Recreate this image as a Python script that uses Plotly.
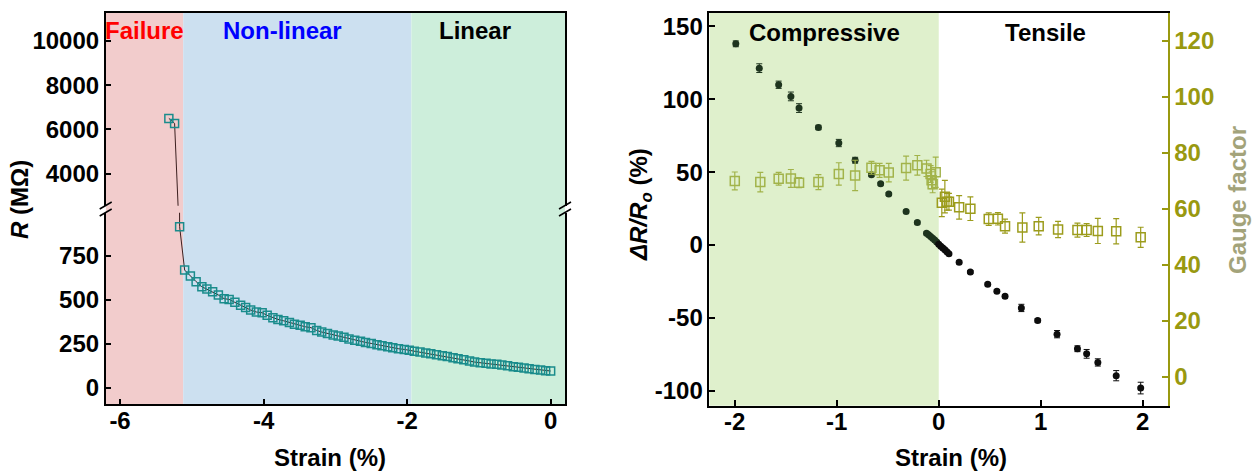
import plotly.graph_objects as go

# ---------------- data: left panel (R vs strain) ----------------
strain_R = [-5.32, -5.24, -5.17, -5.10, -5.02, -4.94, -4.86, -4.79, -4.71, -4.63,
            -4.55, -4.48, -4.40, -4.32, -4.25, -4.18, -4.10, -4.02, -3.95, -3.87,
            -3.80, -3.72, -3.64, -3.57, -3.49, -3.42, -3.34, -3.26, -3.19, -3.11,
            -3.03, -2.96, -2.88, -2.81, -2.73, -2.65, -2.58, -2.50, -2.42, -2.35,
            -2.27, -2.20, -2.12, -2.04, -1.97, -1.90, -1.82, -1.74, -1.67, -1.59,
            -1.51, -1.44, -1.36, -1.29, -1.21, -1.13, -1.06, -0.98, -0.90, -0.83,
            -0.75, -0.68, -0.60, -0.52, -0.45, -0.37, -0.30, -0.22, -0.14, -0.07, 0.00]
R_vals = [6497, 6271, 917, 670, 636, 604, 575, 562, 547, 528,
          507, 503, 486, 469, 457, 442, 431, 427, 412, 399,
          389, 381, 372, 362, 355, 347, 342, 326, 317, 309,
          300, 294, 287, 277, 270, 264, 258, 252, 245, 239,
          233, 228, 222, 218, 213, 207, 203, 197, 194, 188,
          182, 177, 171, 165, 159, 152, 146, 142, 139, 135,
          133, 129, 125, 120, 116, 112, 108, 104, 101, 97, 95]

regions_left = ["Failure", "Non-linear", "Linear"]
region_bounds = [-6.2, -5.12, -1.94, 0.2]
region_colors = ["#f2cccc", "#cce0f0", "#cdeedb"]
region_text_colors = ["#ff0000", "#0000ff", "#000000"]
region_label_x = [-5.66, -3.73, -1.05]

x_ticks_left = [-6, -4, -2, 0]
x_ticktext_left = ["-6", "-4", "-2", "0"]
y_ticks_low = [0, 250, 500, 750]
y_ticktext_low = ["0", "250", "500", "750"]
y_ticks_up = [4000, 6000, 8000, 10000]
y_ticktext_up = ["4000", "6000", "8000", "10000"]

# ---------------- data: right panel ----------------
strain_comp = [-1.99, -1.76, -1.57, -1.45, -1.37, -1.18, -0.98, -0.82, -0.66, -0.57,
               -0.49, -0.32, -0.21, -0.12, -0.10, -0.08, -0.06, -0.04, -0.02]
dR_comp = [138.1, 121.4, 110.0, 102.0, 94.0, 80.7, 70.0, 58.2, 48.2, 42.0,
           35.0, 23.0, 15.4, 8.0, 7.0, 5.8, 4.6, 3.4, 2.0]
dR_comp_err = [2.0, 3.0, 2.5, 3.0, 3.0, 1.5, 2.5, 2.0, 1.0, 1.0,
               1.0, 1.0, 1.0, 1.0, 0.5, 0.5, 0.5, 0.5, 0.5]
strain_tens = [0.00, 0.02, 0.04, 0.06, 0.08, 0.10, 0.20, 0.31, 0.48, 0.57,
               0.65, 0.81, 0.97, 1.16, 1.36, 1.45, 1.56, 1.74, 1.98]
dR_tens = [0.5, -0.8, -2.0, -3.2, -4.6, -6.0, -11.9, -18.5, -27.0, -31.7,
           -35.2, -43.2, -51.8, -61.2, -71.2, -74.7, -80.6, -89.7, -98.2]
dR_tens_err = [0.5, 0.5, 0.5, 0.5, 0.8, 0.8, 1.0, 1.0, 1.0, 1.0,
               1.2, 2.5, 1.2, 2.5, 2.0, 3.0, 2.5, 3.5, 4.0]

gf_strain_comp = [-2.00, -1.75, -1.57, -1.45, -1.37, -1.18, -0.98, -0.82, -0.66, -0.58,
                  -0.49, -0.32, -0.21, -0.12, -0.08, -0.07, -0.06, -0.03]
gf_comp = [69.9, 69.5, 70.7, 70.8, 69.3, 69.5, 72.4, 71.9, 74.6, 73.7,
           72.9, 74.5, 75.5, 74.4, 72.4, 70.2, 68.7, 73.0]
gf_comp_err = [3.2, 3.5, 2.3, 3.2, 1.8, 2.7, 4.0, 5.4, 2.3, 2.5,
               3.3, 4.3, 3.5, 2.9, 3.0, 3.0, 3.0, 5.4]
gf_strain_tens = [0.03, 0.06, 0.08, 0.10, 0.20, 0.31, 0.49, 0.58, 0.65, 0.82,
                  0.98, 1.17, 1.36, 1.45, 1.56, 1.74, 1.98]
gf_tens = [62.1, 64.3, 62.5, 62.5, 60.5, 60.0, 56.3, 56.4, 53.8, 53.3,
           53.8, 52.6, 52.4, 52.4, 52.1, 52.0, 49.8]
gf_tens_err = [4.9, 5.8, 3.0, 3.0, 4.2, 4.2, 2.2, 2.2, 2.5, 5.2,
               3.1, 2.9, 2.5, 2.3, 4.5, 4.5, 3.6]

x_ticks_right = [-2, -1, 0, 1, 2]
x_ticktext_right = ["-2", "-1", "0", "1", "2"]
y_ticks_right = [-100, -50, 0, 50, 100, 150]
y_ticktext_right = ["-100", "-50", "0", "50", "100", "150"]
gf_ticks = [0, 20, 40, 60, 80, 100, 120]
gf_ticktext = ["0", "20", "40", "60", "80", "100", "120"]

# ---------------- figure ----------------
W, H = 1254, 472
def px(x):
    return x / W
def py(y):
    return 1 - y / H

FONT = "Liberation Sans, Arial, sans-serif"
FS = 24
OLIVE = "#999910"
TEAL = "#1a8c8c"

fig = go.Figure()

# Left panel: upper segment
fig.add_trace(go.Scatter(
    x=strain_R[:3], y=R_vals[:3], xaxis="x2", yaxis="y2",
    mode="lines+markers",
    line=dict(color="#3b1f1f", width=1),
    marker=dict(symbol="square-open", size=8, color=TEAL, line=dict(width=1.5, color=TEAL)),
    showlegend=False))
# Left panel: lower segment
fig.add_trace(go.Scatter(
    x=strain_R[1:], y=R_vals[1:], xaxis="x", yaxis="y",
    mode="lines+markers",
    line=dict(color="#3b1f1f", width=1),
    marker=dict(symbol="square-open", size=8, color=TEAL, line=dict(width=1.5, color=TEAL)),
    showlegend=False))

# Right panel: dR/R0
fig.add_trace(go.Scatter(
    x=strain_comp, y=dR_comp, xaxis="x3", yaxis="y3", mode="markers",
    marker=dict(symbol="circle", size=7, color="#1e341e"),
    error_y=dict(type="data", array=dR_comp_err, color="#1e341e", thickness=1, width=3),
    showlegend=False))
fig.add_trace(go.Scatter(
    x=strain_tens, y=dR_tens, xaxis="x3", yaxis="y3", mode="markers",
    marker=dict(symbol="circle", size=7, color="#0d0d0d"),
    error_y=dict(type="data", array=dR_tens_err, color="#0d0d0d", thickness=1, width=3),
    showlegend=False))

# Right panel: gauge factor
fig.add_trace(go.Scatter(
    x=gf_strain_comp, y=gf_comp, xaxis="x3", yaxis="y4", mode="markers",
    marker=dict(symbol="square-open", size=9, color="#a2b34a", line=dict(width=1.5, color="#a2b34a")),
    error_y=dict(type="data", array=gf_comp_err, color="#a2b34a", thickness=1.2, width=3),
    showlegend=False))
fig.add_trace(go.Scatter(
    x=gf_strain_tens, y=gf_tens, xaxis="x3", yaxis="y4", mode="markers",
    marker=dict(symbol="square-open", size=9, color="#9c9c1c", line=dict(width=1.5, color="#9c9c1c")),
    error_y=dict(type="data", array=gf_tens_err, color="#9c9c1c", thickness=1.2, width=3),
    showlegend=False))

# geometry (pixels)
L_x0, L_x1 = 105.7, 565.0
R_x0, R_x1 = 709.3, 1167.7
top_px = 12.5
L_bot = 404.3
R_bot = 405.7
low_top = 212.7
up_bot = 205.7

tickfont = dict(family=FONT, size=FS, color="black", weight="bold")
axis_common = dict(showgrid=False, zeroline=False, ticks="inside", ticklen=6, tickwidth=1.5,
                   showline=True, linewidth=1.5, linecolor="black", tickcolor="black",
                   tickfont=tickfont)

fig.update_layout(
    width=W, height=H, margin=dict(l=0, r=0, t=0, b=0),
    paper_bgcolor="white", plot_bgcolor="rgba(0,0,0,0)",
    xaxis=dict(domain=[px(L_x0), px(L_x1)], range=[-6.2, 0.2], anchor="y",
               tickvals=x_ticks_left, ticktext=x_ticktext_left, ticklabelstandoff=-6,
               **axis_common),
    xaxis2=dict(domain=[px(L_x0), px(L_x1)], range=[-6.2, 0.2], anchor="y2", matches="x",
                side="top", showgrid=False, zeroline=False, showline=True, linewidth=1.5,
                linecolor="black", ticks="", showticklabels=False),
    yaxis=dict(domain=[py(L_bot), py(low_top)], range=[-94.5, 996.6], anchor="x",
               tickvals=y_ticks_low, ticktext=y_ticktext_low, mirror=True, **axis_common),
    yaxis2=dict(domain=[py(up_bot), py(top_px)], range=[2551, 11282], anchor="x2",
                tickvals=y_ticks_up, ticktext=y_ticktext_up, mirror=True, **axis_common),
    xaxis3=dict(domain=[px(R_x0), px(R_x1)], range=[-2.25, 2.245], anchor="y3",
                tickvals=x_ticks_right, ticktext=x_ticktext_right, mirror=True,
                ticklabelstandoff=-6, **axis_common),
    yaxis3=dict(domain=[py(R_bot), py(top_px)], range=[-110.3, 159.6], anchor="x3",
                tickvals=y_ticks_right, ticktext=y_ticktext_right, **axis_common),
    yaxis4=dict(range=[-10.25, 130], anchor="x3", overlaying="y3", side="right",
                tickvals=gf_ticks, ticktext=gf_ticktext, showgrid=False, zeroline=False,
                ticks="inside", ticklen=6, tickwidth=1.5, showline=True, linewidth=1.5,
                linecolor=OLIVE, tickcolor=OLIVE,
                tickfont=dict(family=FONT, size=FS, color=OLIVE, weight="bold")),
)

# background regions (left)
for i in range(len(regions_left)):
    fig.add_shape(type="rect", xref="x", yref="paper",
                  x0=region_bounds[i], x1=region_bounds[i + 1], y0=py(L_bot), y1=py(top_px),
                  fillcolor=region_colors[i], line=dict(width=0), layer="below")
    fig.add_annotation(x=region_label_x[i], xref="x", y=py(30), yref="paper",
                       text=regions_left[i], showarrow=False, xanchor="center", yanchor="middle",
                       font=dict(family=FONT, size=FS, color=region_text_colors[i], weight="bold"))

# compressive region (right)
fig.add_shape(type="rect", xref="x3", yref="paper", x0=-2.25, x1=0, y0=py(R_bot), y1=py(top_px),
              fillcolor="#dff0cc", line=dict(width=0), layer="below")
fig.add_annotation(x=-1.12, xref="x3", y=py(32), yref="paper", text="Compressive", showarrow=False,
                   xanchor="center", yanchor="middle",
                   font=dict(family=FONT, size=FS, color="black", weight="bold"))
fig.add_annotation(x=1.05, xref="x3", y=py(32), yref="paper", text="Tensile", showarrow=False,
                   xanchor="center", yanchor="middle",
                   font=dict(family=FONT, size=FS, color="black", weight="bold"))

# axis break marks
for xc in (L_x0, L_x1):
    for dy in (0, 7):
        fig.add_shape(type="line", xref="paper", yref="paper",
                      x0=px(xc - 6), y0=py(209 + dy), x1=px(xc + 6), y1=py(202 + dy),
                      line=dict(color="black", width=1.5))

# axis titles
title_font = dict(family=FONT, size=FS, color="black", weight="bold")
def title(xp, yp, text, angle=0, font=title_font):
    fig.add_annotation(x=px(xp), y=py(yp), xref="paper", yref="paper", text=text,
                       showarrow=False, textangle=angle, xanchor="center", yanchor="middle",
                       font=font)

title(330, 457, "Strain (%)")
title(951, 457, "Strain (%)")
title(19, 200, "<i>R</i> (MΩ)", -90)
title(640, 205, "<i>ΔR/R<sub>o</sub></i> (%)", -90)
title(1237, 200, "Gauge factor", -90,
      dict(family=FONT, size=FS, color="#a3a37a", weight="bold"))

fig.write_html("out.html", config={"displayModeBar": False})

# remove the browser's default page margin so the figure sits at the window origin
with open("out.html", "r", encoding="utf-8") as f:
    html = f.read()
html = html.replace("<body>", '<body style="margin:0;padding:0;">', 1)
with open("out.html", "w", encoding="utf-8") as f:
    f.write(html)
